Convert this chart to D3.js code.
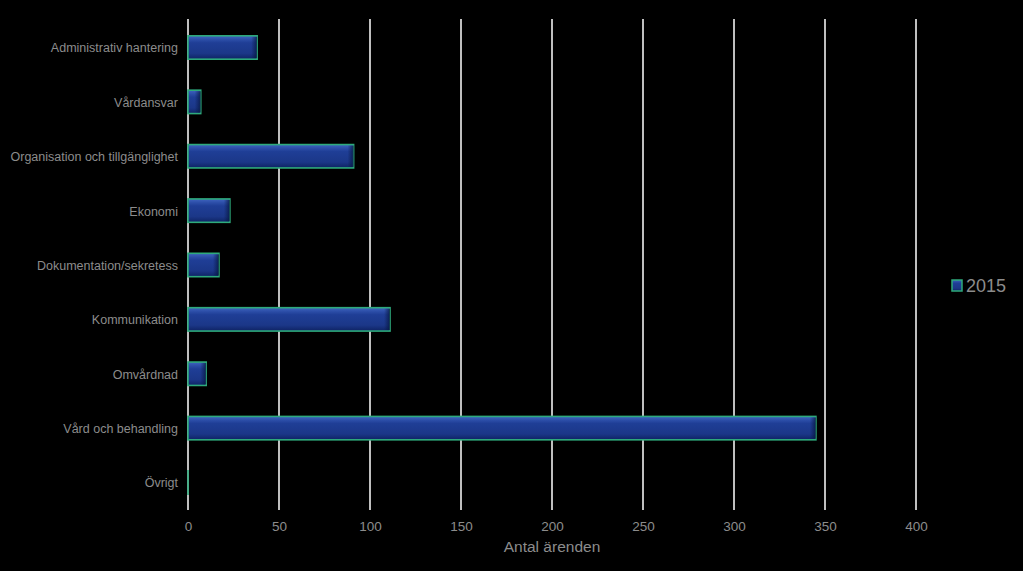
<!DOCTYPE html>
<html><head><meta charset="utf-8">
<script src="https://cdn.jsdelivr.net/npm/d3@7"></script>
<style>html,body{margin:0;padding:0;background:#000;}svg{display:block;}</style>
</head><body>
<script>
const categories = ["Administrativ hantering","Vårdansvar","Organisation och tillgänglighet","Ekonomi","Dokumentation/sekretess","Kommunikation","Omvårdnad","Vård och behandling","Övrigt"];
const values2015 = [38, 7, 91, 23, 17, 111, 10, 345, 0];
const xTicks = [0, 50, 100, 150, 200, 250, 300, 350, 400];
const seriesName = "2015";
const axisTitle = "Antal ärenden";

const W = 1023, H = 571;
const FONT = "'Liberation Sans', Arial, sans-serif";
const m = {left: 188, right: 1023 - 916, top: 19, bottom: 571 - 510};
const svg = d3.select("body").append("svg").attr("width", W).attr("height", H).style("background", "#000");
const defs = svg.append("defs");
const g1 = defs.append("linearGradient").attr("id", "barg").attr("x1", 0).attr("y1", 0).attr("x2", 0).attr("y2", 1);
[[0, "#4064c0"], [0.16, "#2c4ea8"], [0.3, "#1f3e96"], [0.75, "#1b3788"], [1, "#0e2363"]].forEach(s => g1.append("stop").attr("offset", s[0]).attr("stop-color", s[1]));
const g2 = defs.append("linearGradient").attr("id", "endg").attr("x1", 0).attr("y1", 0).attr("x2", 1).attr("y2", 0);
[[0, "rgba(5,20,60,0)"], [1, "rgba(5,20,60,0.75)"]].forEach(s => g2.append("stop").attr("offset", s[0]).attr("stop-color", s[1]));

const x = d3.scaleLinear().domain([0, 400]).range([m.left, W - m.right]);
const y = d3.scaleBand().domain(categories).range([m.top, H - m.bottom]).paddingInner(0.57).paddingOuter(0.3);

// gridlines
svg.append("g").selectAll("line").data(xTicks).join("line")
  .attr("x1", d => x(d)).attr("x2", d => x(d))
  .attr("y1", m.top).attr("y2", H - m.bottom)
  .attr("stroke", "#ffffff").attr("stroke-width", 1.5);

// bars
const data = categories.map((c, i) => ({c, v: values2015[i]}));
const bars = svg.append("g").selectAll("g").data(data).join("g");
bars.append("rect")
  .attr("x", x(0)).attr("y", d => y(d.c) + 0.5)
  .attr("width", d => Math.max(0.01, x(d.v) - x(0))).attr("height", y.bandwidth())
  .attr("fill", "url(#barg)").attr("stroke", "#2eaa7c").attr("stroke-width", 1.6);
bars.filter(d => d.v > 0).append("rect")
  .attr("x", d => Math.max(x(0), x(d.v) - 6)).attr("y", d => y(d.c) + 1.5)
  .attr("width", d => Math.min(6, x(d.v) - x(0))).attr("height", y.bandwidth() - 2)
  .attr("fill", "url(#endg)");

// y labels
svg.append("g").selectAll("text").data(categories).join("text")
  .attr("x", 178).attr("y", d => y(d) + y.bandwidth() / 2 + 1)
  .attr("dy", "0.35em").attr("text-anchor", "end")
  .attr("font-family", FONT).attr("font-size", 12.5)
  .attr("fill", "#8c8c8c").text(d => d);

// x axis
const xa = svg.append("g").attr("transform", `translate(0,${H - m.bottom})`)
  .call(d3.axisBottom(x).tickValues(xTicks).tickSize(0).tickPadding(11));
xa.select(".domain").remove();
xa.selectAll("text").attr("font-family", FONT).attr("font-size", 13.5).attr("fill", "#8c8c8c");

svg.append("text").attr("x", (x(0) + x(400)) / 2).attr("y", 552)
  .attr("text-anchor", "middle").attr("font-family", FONT)
  .attr("font-size", 15.5).attr("fill", "#8c8c8c").text(axisTitle);

// legend
const lg = svg.append("g").attr("transform", "translate(952,280)");
lg.append("rect").attr("width", 10).attr("height", 11).attr("fill", "url(#barg)").attr("stroke", "#2eaa7c").attr("stroke-width", 1.5);
lg.append("text").attr("x", 14).attr("y", 6).attr("dy", "0.35em")
  .attr("font-family", FONT).attr("font-size", 18).attr("fill", "#8c8c8c").text(seriesName);
</script>
</body></html>
